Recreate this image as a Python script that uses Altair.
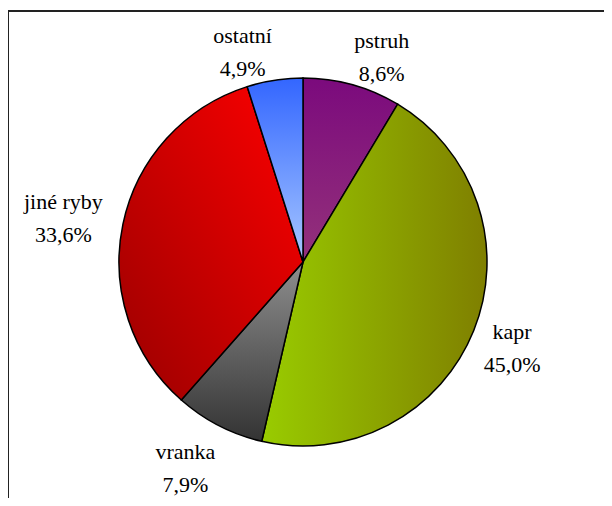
import altair as alt
import pandas as pd

categories = ["pstruh", "kapr", "vranka", "jiné ryby", "ostatní"]
shares = [8.6, 45.0, 7.9, 33.6, 4.9]

gradients = {
    "pstruh": dict(stops=["#7b0a7d", "#94327a"], x1=0, y1=0, x2=0, y2=1),
    "kapr": dict(stops=["#99cc00", "#7f7f00"], x1=0, y1=0, x2=1, y2=0),
    "vranka": dict(stops=["#8e8e8e", "#333333"], x1=0, y1=0, x2=0, y2=1),
    "jiné ryby": dict(stops=["#ff0000", "#990000"], x1=1, y1=0, x2=0, y2=1),
    "ostatní": dict(stops=["#3366ff", "#a8c8ff"], x1=0, y1=0, x2=0, y2=1),
}

df = pd.DataFrame({"idx": list(range(len(categories))), "cat": categories, "value": shares})

W, H = 596, 487
CX, CY, R = 295, 251, 184
FS = 22
LH = 33

base = (
    alt.Chart(df)
    .transform_window(cum="sum(value)", sort=[{"field": "idx"}])
    .transform_calculate(
        start="datum.cum - datum.value",
        mid="(datum.cum - datum.value / 2) / 100 * 2 * PI",
        pct="replace(format(datum.value, '.1f'), '.', ',') + '%'",
    )
    .transform_calculate(
        lines="[datum.cat, datum.pct]",
        w="max(length(datum.cat), length(datum.pct)) * 10",
    )
)

layers = []
for c in categories:
    g = gradients[c]
    grad = alt.Gradient(
        gradient="linear",
        stops=[alt.GradientStop(color=g["stops"][0], offset=0),
               alt.GradientStop(color=g["stops"][1], offset=1)],
        x1=g["x1"], y1=g["y1"], x2=g["x2"], y2=g["y2"],
    )
    layers.append(
        base.transform_filter(alt.datum.cat == c)
        .mark_arc(fill=grad, stroke="black", strokeWidth=1.5, outerRadius=R)
        .encode(
            theta=alt.Theta("start:Q", scale=alt.Scale(domain=[0, 100])),
            theta2="cum:Q",
            x=alt.value(CX),
            y=alt.value(CY),
        )
    )

labels = (
    base.transform_calculate(
        side="sin(datum.mid) >= 0 ? 1 : -1",
        ry="cos(datum.mid) >= 0 ? 212 : 232",
    )
    .transform_calculate(
        lx=f"{CX} + 205 * sin(datum.mid) - 6 * datum.side + datum.side * datum.w / 2",
        ly=f"{CY} - datum.ry * cos(datum.mid) - {LH / 2}",
    )
    .mark_text(align="center", baseline="middle", font="Liberation Serif", fontSize=FS,
               lineHeight=LH, color="black")
    .encode(x=alt.X("lx:Q", scale=None), y=alt.Y("ly:Q", scale=None), text="lines:N")
)

frame_data = alt.Data(values=[{"k": 1}])
top_line = alt.Chart(frame_data).mark_rule(color="#222222", strokeWidth=2).encode(
    x=alt.value(0), x2=alt.value(W), y=alt.value(0))
left_line = alt.Chart(frame_data).mark_rule(color="#222222", strokeWidth=2).encode(
    x=alt.value(0), y=alt.value(0), y2=alt.value(H))

chart = (
    alt.layer(*layers, labels, top_line, left_line)
    .properties(width=W, height=H, padding={"left": 0, "top": 3, "right": 0, "bottom": 0},
                autosize=alt.AutoSizeParams(type="none"))
    .configure_view(stroke=None)
)

chart.save("out.html", embed_options={"renderer": "svg", "actions": False})
